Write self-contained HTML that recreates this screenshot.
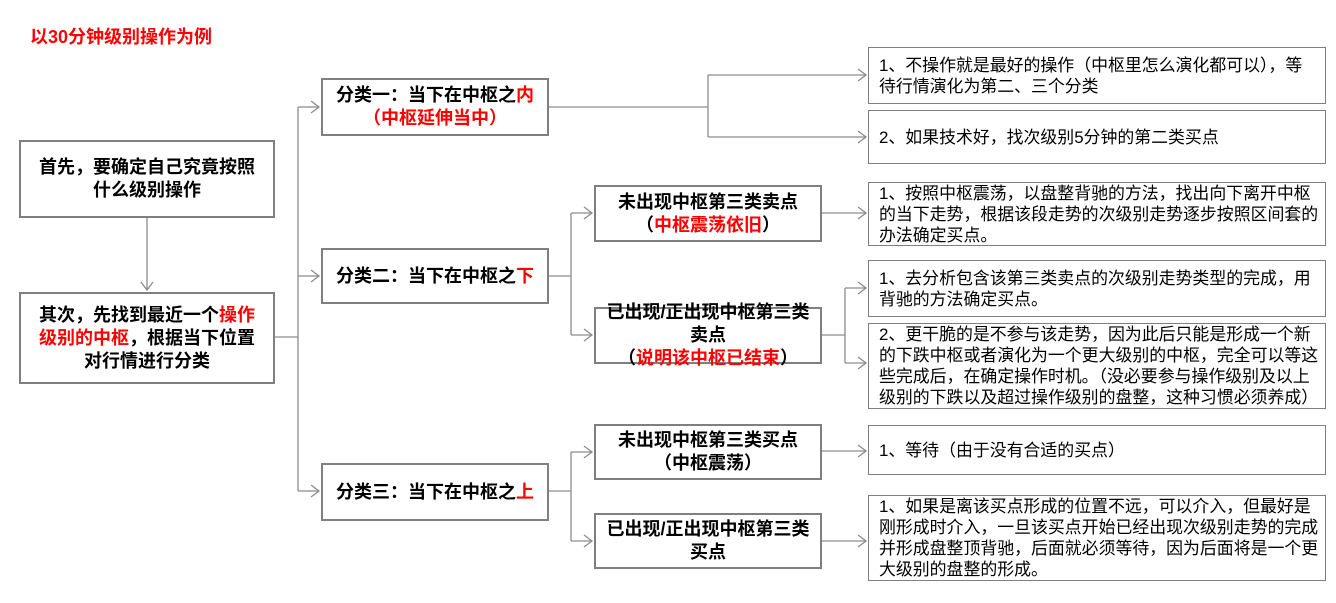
<!DOCTYPE html>
<html><head><meta charset="utf-8"><style>
body{margin:0;width:1336px;height:603px;background:#fff;position:relative;overflow:hidden;font-family:"Liberation Sans","Noto Sans CJK SC",sans-serif;color:#000}
.b{position:absolute;box-sizing:border-box;border:2px solid #7f7f7f;background:#fff;display:flex;align-items:center;justify-content:center;text-align:center;font-weight:bold;font-size:18px;line-height:23px}
.e{position:absolute;box-sizing:border-box;border:1.5px solid #7f7f7f;background:#fff;display:flex;align-items:center;font-size:16.9px;line-height:21px;padding:0 4px 0 10px;white-space:nowrap}
.b>div,.e>div{width:100%}
.r{color:#f00}
svg{position:absolute;left:0;top:0}
</style></head><body>
<div style="position:absolute;left:30px;top:23px;color:#f00;font-weight:bold;font-size:18px">以30分钟级别操作为例</div>
<svg width="1336" height="603" fill="none" stroke="#8c8c8c" stroke-width="1.3">
<path d="M147 217V290M141 282l6 8 6-8"/>
<path d="M275 337H298M298 107V491M298 107H319M298 276H319M298 491H319"/>
<path d="M311 101l8 6-8 6M311 270l8 6-8 6M311 485l8 6-8 6"/>
<path d="M549 107H708M708 75V137M708 75H866M708 137H866M858 69l8 6-8 6M858 131l8 6-8 6"/>
<path d="M549 276H571M571 213V335M571 213H592M571 335H592M584 207l8 6-8 6M584 329l8 6-8 6"/>
<path d="M822 213H866M858 207l8 6-8 6"/>
<path d="M822 335H845M845 288V363M845 288H866M845 363H866M858 282l8 6-8 6M858 357l8 6-8 6"/>
<path d="M549 491H571M571 452V541M571 452H592M571 541H592M584 446l8 6-8 6M584 535l8 6-8 6"/>
<path d="M822 451H866M858 445l8 6-8 6M822 541H866M858 535l8 6-8 6"/>
</svg>
<div class="b" style="left:19px;top:140px;width:256px;height:78px"><div>首先，要确定自己究竟按照<br>什么级别操作</div></div>
<div class="b" style="left:19px;top:292px;width:256px;height:92px"><div>其次，先找到最近一个<span class="r">操作</span><br><span class="r">级别的中枢</span>，根据当下位置<br>对行情进行分类</div></div>
<div class="b" style="left:321px;top:78px;width:228px;height:58px"><div>分类一：当下在中枢之<span class="r">内</span><br><span class="r">（中枢延伸当中）</span></div></div>
<div class="b" style="left:321px;top:248px;width:228px;height:56px"><div>分类二：当下在中枢之<span class="r">下</span></div></div>
<div class="b" style="left:321px;top:463px;width:228px;height:58px"><div>分类三：当下在中枢之<span class="r">上</span></div></div>
<div class="b" style="left:594px;top:185px;width:228px;height:57px"><div>未出现中枢第三类卖点<br>（<span class="r">中枢震荡依旧</span>）</div></div>
<div class="b" style="left:594px;top:307px;width:228px;height:57px;overflow:visible"><div>已出现/正出现中枢第三类<br>卖点<br>（<span class="r">说明该中枢已结束</span>）</div></div>
<div class="b" style="left:594px;top:424px;width:228px;height:56px"><div>未出现中枢第三类买点<br>（中枢震荡）</div></div>
<div class="b" style="left:594px;top:513px;width:228px;height:56px"><div>已出现/正出现中枢第三类<br>买点</div></div>
<div class="e" style="left:868px;top:47px;width:458px;height:57px"><div>1、不操作就是最好的操作（中枢里怎么演化都可以），等<br>待行情演化为第二、三个分类</div></div>
<div class="e" style="left:868px;top:110px;width:458px;height:54px"><div>2、如果技术好，找次级别5分钟的第二类买点</div></div>
<div class="e" style="left:868px;top:182px;width:458px;height:64px"><div>1、按照中枢震荡，以盘整背驰的方法，找出向下离开中枢<br>的当下走势，根据该段走势的次级别走势逐步按照区间套的<br>办法确定买点。</div></div>
<div class="e" style="left:868px;top:260px;width:458px;height:57px"><div>1、去分析包含该第三类卖点的次级别走势类型的完成，用<br>背驰的方法确定买点。</div></div>
<div class="e" style="left:868px;top:323px;width:458px;height:86px"><div>2、更干脆的是不参与该走势，因为此后只能是形成一个新<br>的下跌中枢或者演化为一个更大级别的中枢，完全可以等这<br>些完成后，在确定操作时机。（没必要参与操作级别及以上<br>级别的下跌以及超过操作级别的盘整，这种习惯必须养成）</div></div>
<div class="e" style="left:868px;top:425px;width:458px;height:50px"><div>1、等待（由于没有合适的买点）</div></div>
<div class="e" style="left:868px;top:495px;width:458px;height:86px"><div>1、如果是离该买点形成的位置不远，可以介入，但最好是<br>刚形成时介入，一旦该买点开始已经出现次级别走势的完成<br>并形成盘整顶背驰，后面就必须等待，因为后面将是一个更<br>大级别的盘整的形成。</div></div>
</body></html>
